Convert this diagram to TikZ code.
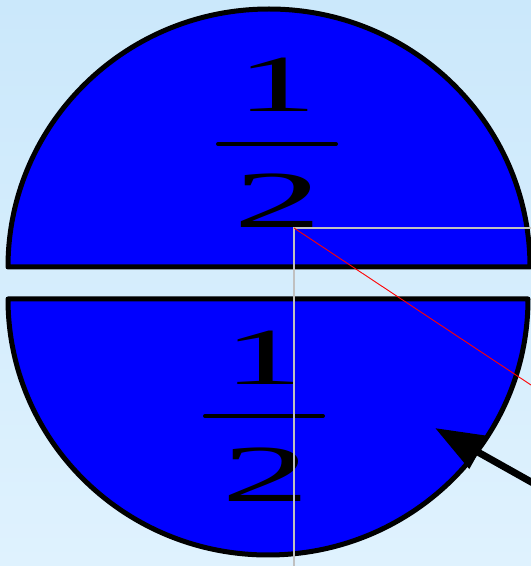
\documentclass[tikz,border=0pt]{standalone}
\usepackage{fontspec}
\setmainfont{Liberation Serif}
\usetikzlibrary{arrows.meta}
\definecolor{bgtop}{RGB}{203,232,251}
\definecolor{bgbot}{RGB}{223,242,254}
\definecolor{guide}{RGB}{192,192,192}
\begin{document}
\begin{tikzpicture}[x=1pt,y=1pt,
  half/.style={fill={rgb,255:red,0;green,0;blue,255},draw=black,line width=5pt,line join=round},
  digit/.style={anchor=base,inner sep=0pt,font=\fontsize{81}{90}\selectfont},
  one/.style={digit,xscale=2.0},
  two/.style={digit,xscale=2.2},
  fracbar/.style={line width=4pt,line cap=round},
  guideline/.style={draw=guide,line width=1.5pt},
  redline/.style={draw=red,line width=0.9pt},
  bigarrow/.style={line width=7pt,-{Triangle[length=50pt,width=36pt]}}]
\shade[top color=bgtop,bottom color=bgbot] (0,0) rectangle (531,566);
\useasboundingbox (0,0) rectangle (531,566);
% top half
\draw[half] (8,299) -- (530,299) arc[start angle=0,end angle=180,x radius=261,y radius=258] -- cycle;
% bottom half
\draw[half] (8,267) -- (528,267) arc[start angle=0,end angle=-180,x radius=260,y radius=256] -- cycle;
% top fraction
\node[one] (t1) at (277,454) {1};
\node[two] (t2) at (278,338) {2};
\coordinate (tbl) at (218,422);
\coordinate (tbr) at (336,422);
\draw[fracbar] (tbl) -- (tbr);
% bottom fraction
\node[one] (b1) at (264,181) {1};
\node[two] (b2) at (266,64) {2};
\coordinate (bbl) at (205,150);
\coordinate (bbr) at (323,150);
\draw[fracbar] (bbl) -- (bbr);
% guide lines
\coordinate (g0) at (294,338);
\coordinate (gdown) at (294,0);
\coordinate (gright) at (531,338);
\coordinate (rend) at (531,181);
\draw[guideline] (gdown) -- (g0) -- (gright);
\draw[redline] (g0) -- (rend);
% arrow
\coordinate (atail) at (533,83);
\coordinate (atip) at (435,138);
\draw[bigarrow] (atail) -- (atip);
\end{tikzpicture}
\end{document}
